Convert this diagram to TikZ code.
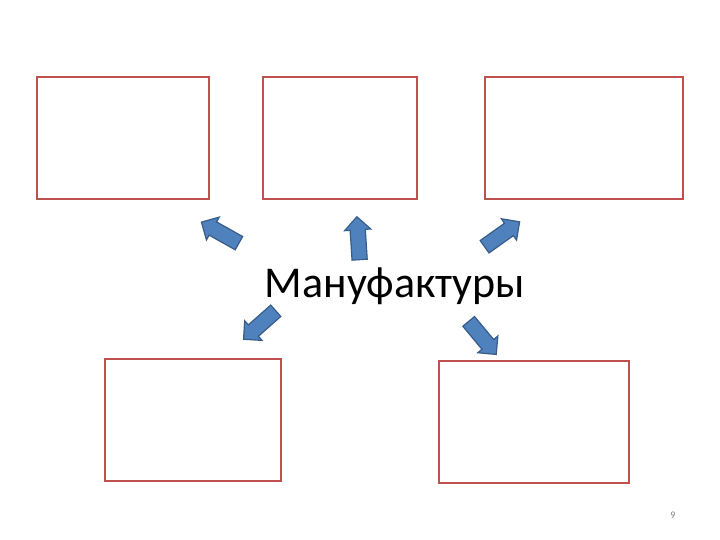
\documentclass[tikz,border=0pt]{standalone}
\usepackage{fontspec}
\setmainfont{Carlito}
\usetikzlibrary{shapes.arrows}
\definecolor{boxred}{HTML}{C0504D}
\definecolor{arrfill}{HTML}{4F81BD}
\definecolor{arrdraw}{HTML}{385D8A}
\begin{document}
\begin{tikzpicture}[x=1pt,y=-1pt,
  emptybox/.style={draw=boxred,line width=1.6pt,inner sep=0pt},
  blockarrow/.style={single arrow,fill=arrfill,draw=arrdraw,line width=1.2pt,
    text height=7pt,text depth=7pt,text width=0pt,inner sep=0pt,
    single arrow head extend=5.5pt,minimum height=43pt}]
%page
\path[use as bounding box,fill=white](0,0)rectangle(720,540);
%boxes
\node[emptybox,minimum width=172pt,minimum height=122pt](box1)at(123,138){};
\node[emptybox,minimum width=154pt,minimum height=122pt](box2)at(340,138){};
\node[emptybox,minimum width=198pt,minimum height=122pt](box3)at(584,138){};
\node[emptybox,minimum width=176pt,minimum height=122pt](box4)at(193,420){};
\node[emptybox,minimum width=190pt,minimum height=122pt](box5)at(534,422){};
%center
\node[anchor=base,font=\fontsize{44}{50}\selectfont,inner sep=0pt](manuf)at(395,297){Мануфактуры};
%arrows
\node[blockarrow,rotate=150.7](arr1)at(223.5,234.5){};
\node[blockarrow,rotate=93.7](arr2)at(358.5,242){};
\node[blockarrow,rotate=35.4](arr3)at(499,236.5){};
\node[blockarrow,rotate=221.5](arr4)at(262.5,322.5){};
\node[blockarrow,rotate=-50.2](arr5)at(480,335){};
%page number
\node[font=\fontsize{10}{11}\selectfont,text=gray](pagenum)at(673,515){9};
\end{tikzpicture}
\end{document}
